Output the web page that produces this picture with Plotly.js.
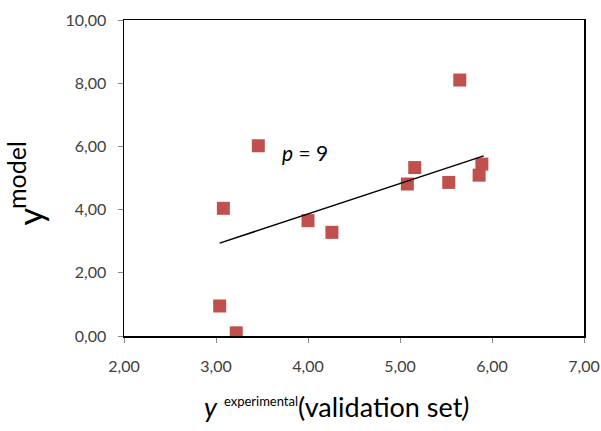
<!DOCTYPE html>
<html>
<head>
<meta charset="utf-8">
<script src="https://cdn.plot.ly/plotly-3.0.1.min.js"></script>
<style>html,body{margin:0;padding:0;background:#fff;}#chart{width:601px;height:431px;}</style>
</head>
<body>
<div id="chart"></div>
<script>
// Validation set points
const yExperimental = [3.04, 3.22, 3.08, 3.46, 4.00, 4.26, 5.08, 5.16, 5.53, 5.65, 5.86, 5.89];
const yModel        = [0.95, 0.10, 4.04, 6.02, 3.65, 3.28, 4.81, 5.33, 4.86, 8.10, 5.09, 5.44];
// Trend line endpoints
const lineX = [3.04, 5.91];
const lineY = [2.94, 5.70];
const xTicks = [2, 3, 4, 5, 6, 7];
const yTicks = [0, 2, 4, 6, 8, 10];

const FONT = 'Lato, "Open Sans", sans-serif';
const tickFont = {family: FONT, size: 16, color: '#404040'};

const data = [
  {x: yExperimental, y: yModel, mode: 'markers', type: 'scatter',
   marker: {symbol: 'square', size: 13, color: '#C0504D'}, hoverinfo: 'x+y'},
  {x: lineX, y: lineY, mode: 'lines', type: 'scatter',
   line: {color: '#000', width: 1.5}}
];

const pw = 601 - 124 - 17, ph = 431 - 20 - 95;
const px = v => (v - 124) / pw;
const py = v => (336 - v) / ph;

const layout = {
  width: 601, height: 431,
  margin: {l: 124, r: 17, t: 20, b: 95},
  paper_bgcolor: '#fff', plot_bgcolor: '#fff',
  showlegend: false,
  separators: ',.',
  xaxis: {range: [2, 7], tickvals: xTicks, tickformat: '.2f', showgrid: false, zeroline: false,
          showline: true, linecolor: '#000', linewidth: 1.5, mirror: true,
          ticks: 'outside', ticklen: 5, tickcolor: '#888', tickfont: tickFont, ticklabelstandoff: 10},
  yaxis: {range: [0, 10], tickvals: yTicks, tickformat: '.2f', showgrid: false, zeroline: false,
          showline: true, linecolor: '#000', linewidth: 1.5, mirror: true,
          ticks: 'outside', ticklen: 5, tickcolor: '#888', tickfont: tickFont, ticklabelstandoff: 8},
  annotations: [
    {text: '<i>p</i> = 9', x: 3.97, y: 5.82, xref: 'x', yref: 'y', showarrow: false,
     font: {family: FONT, size: 21, color: '#000'}},
    {text: '<i>y</i> <sup><span style="font-size:13px">experimental</span></sup>(validation set<i>)</i>',
     x: px(336), y: py(406),
     xref: 'paper', yref: 'paper', xanchor: 'center', yanchor: 'middle', showarrow: false,
     font: {family: FONT, size: 27, color: '#000'}},
    {text: 'y', x: px(6), y: py(216), xref: 'paper', yref: 'paper', showarrow: false, textangle: -90,
     font: {family: FONT, size: 34, color: '#000'}},
    {text: 'model', x: px(-1), y: py(175), xref: 'paper', yref: 'paper', showarrow: false, textangle: -90,
     font: {family: FONT, size: 25, color: '#000'}}
  ]
};

Plotly.newPlot('chart', data, layout, {displayModeBar: false, staticPlot: true});
</script>
</body>
</html>
